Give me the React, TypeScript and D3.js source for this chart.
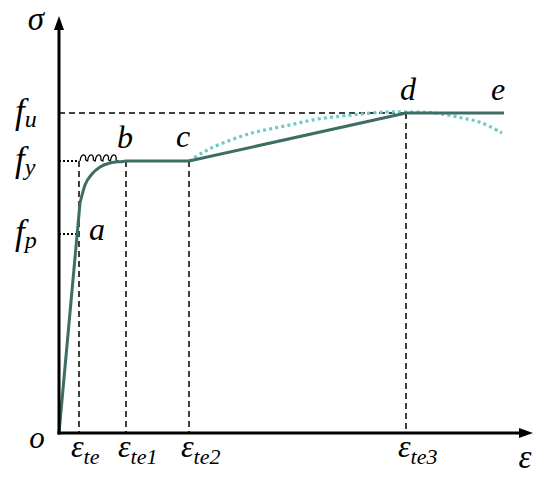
import React from "react";
import * as d3 from "d3";

const W = 550;
const H = 481;

// strain marks (units of εte) and stress levels
const strainTicks = [
  { key: "te", v: 1.0, sub: "te" },
  { key: "te1", v: 3.35, sub: "te1" },
  { key: "te2", v: 6.5, sub: "te2" },
  { key: "te3", v: 17.35, sub: "te3" },
];
const fp = 199;
const fy = 272;
const fu = 320;
const strainMax = 23.7;
const stressMax = 417;

// main (teal) curve pieces
const elastic: [number, number][] = [
  [0, 0],
  [1.05, 230],
];
const knee: [number, number][] = [
  [1.05, 230],
  [1.3, 248],
  [1.65, 259],
  [2.05, 266],
  [2.55, 270],
  [3.2, 271.6],
  [3.35, 272],
];
const rest: [number, number][] = [
  [3.35, 272],
  [6.5, 272],
  [17.35, 320],
  [22.25, 320],
];
// cyan dotted alternative curve
const alt: [number, number][] = [
  [6.5, 272],
  [7.15, 280],
  [7.95, 288],
  [9.65, 300],
  [11.3, 307],
  [12.95, 314],
  [14.65, 318],
  [16.3, 321],
  [17.35, 321],
  [18.8, 320],
  [20.15, 315],
  [21.15, 310],
  [22.15, 300],
];
const pointLabels = [
  { t: "a", x: 1.9, y: 193 },
  { t: "b", x: 3.3, y: 285 },
  { t: "c", x: 6.2, y: 286 },
  { t: "d", x: 17.45, y: 333 },
  { t: "e", x: 21.95, y: 333 },
];

export default function App() {
  const x = d3.scaleLinear().domain([0, strainMax]).range([59, 533]);
  const y = d3.scaleLinear().domain([0, stressMax]).range([433, 16]);
  const lin = d3
    .line<[number, number]>()
    .x((d) => x(d[0]))
    .y((d) => y(d[1]));
  const mono = d3
    .line<[number, number]>()
    .x((d) => x(d[0]))
    .y((d) => y(d[1]))
    .curve(d3.curveMonotoneX);
  const smooth = d3
    .line<[number, number]>()
    .x((d) => x(d[0]))
    .y((d) => y(d[1]))
    .curve(d3.curveCatmullRom.alpha(0.5));

  const x0 = x(0);
  const y0 = y(0);
  const font = "'Liberation Serif', 'Times New Roman', serif";
  const teal = "#3e6d66";
  const cyan = "#6fc9c9";

  // wavy yield mark between εte and εte1 at fy
  const wx0 = x(strainTicks[0].v) + 1;
  const wx1 = x(2.95);
  const humps = 5;
  const hw = (wx1 - wx0) / humps;
  const fyPx = y(fy);
  let wave = `M${wx0},${fyPx} `;
  for (let i = 0; i < humps; i++) {
    const sx = wx0 + i * hw;
    wave += `C${sx + hw * 0.15},${fyPx - 8} ${sx + hw * 0.85},${fyPx - 8} ${sx + hw * 0.75},${fyPx - 1} `;
    wave += `L${sx + hw},${fyPx} `;
  }

  const dash = "6,4";
  return (
    <svg
      width={W}
      height={H}
      style={{ position: "absolute", left: 0, top: 0, background: "#fff" }}
      fontFamily={font}
      fontStyle="italic"
    >
      <rect width={W} height={H} fill="#fff" />
      {/* reference lines */}
      <line x1={x0} x2={x(strainTicks[3].v)} y1={y(fu)} y2={y(fu)} stroke="#000" strokeWidth={1.5} strokeDasharray={dash} />
      <line x1={x0} x2={x(strainTicks[0].v)} y1={y(fy)} y2={y(fy)} stroke="#000" strokeWidth={2} strokeDasharray="2,2" />
      <line x1={x0} x2={x(strainTicks[0].v)} y1={y(fp)} y2={y(fp)} stroke="#000" strokeWidth={2} strokeDasharray="2,2" />
      {strainTicks.map((t, i) => (
        <line
          key={t.key}
          x1={x(t.v)}
          x2={x(t.v)}
          y1={i === 3 ? y(fu) : y(fy)}
          y2={y0}
          stroke="#000"
          strokeWidth={1.5}
          strokeDasharray={dash}
        />
      ))}
      {/* wavy mark */}
      <path d={wave} fill="none" stroke="#000" strokeWidth={1.3} />
      {/* curves */}
      <path d={smooth(alt) || ""} fill="none" stroke={cyan} strokeWidth={3.2} strokeDasharray="3,3.2" />
      <path d={lin(elastic) || ""} fill="none" stroke={teal} strokeWidth={3} />
      <path d={mono(knee) || ""} fill="none" stroke={teal} strokeWidth={3} />
      <path d={lin(rest) || ""} fill="none" stroke={teal} strokeWidth={3} strokeLinejoin="round" />
      {/* axes */}
      <line x1={x0} x2={x0} y1={y0 + 1.5} y2={y(stressMax) + 12} stroke="#000" strokeWidth={3} />
      <path d={`M${x0},${y(stressMax)} L${x0 - 5},${y(stressMax) + 14} L${x0 + 5},${y(stressMax) + 14} Z`} fill="#000" />
      <line x1={x0 - 1.5} x2={x(strainMax) - 12} y1={y0} y2={y0} stroke="#000" strokeWidth={3} />
      <path d={`M${x(strainMax)},${y0} L${x(strainMax) - 14},${y0 - 5} L${x(strainMax) - 14},${y0 + 5} Z`} fill="#000" />
      {/* axis labels */}
      <text x={36} y={30} fontSize={33} textAnchor="middle">σ</text>
      <text x={525} y={468} fontSize={33} textAnchor="middle">ε</text>
      <text x={37} y={448} fontSize={31} textAnchor="middle">o</text>
      {/* stress labels */}
      {[
        { v: fu, s: "u" },
        { v: fy, s: "y" },
        { v: fp, s: "p" },
      ].map((f) => (
        <text key={f.s} x={15} y={y(f.v) + 10} fontSize={35}>
          f
          <tspan fontSize={24} dy={4} dx={0}>{f.s}</tspan>
        </text>
      ))}
      {/* strain labels */}
      {strainTicks.map((t) => (
        <text key={t.key} x={x(t.v) - 8} y={457} fontSize={32}>
          ε
          <tspan fontSize={22} dy={7}>{t.sub}</tspan>
        </text>
      ))}
      {/* point labels */}
      {pointLabels.map((p) => (
        <text key={p.t} x={x(p.x)} y={y(p.y)} fontSize={32} textAnchor="middle">
          {p.t}
        </text>
      ))}
    </svg>
  );
}
